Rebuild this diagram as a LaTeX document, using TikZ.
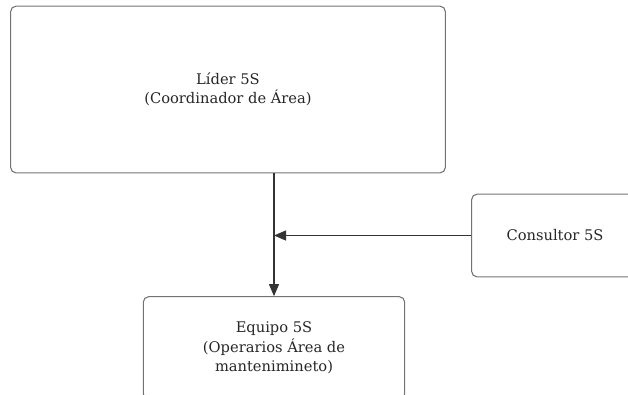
\documentclass[tikz,border=0pt]{standalone}
\usepackage{fontspec}
\setmainfont{DejaVu Serif}
\usetikzlibrary{arrows.meta,positioning}

\begin{document}
\begin{tikzpicture}[x=0.75pt, y=-0.75pt, >={Triangle[length=9pt,width=7.5pt]},
  box/.style={draw=black!55, line width=0.8pt, rounded corners=4pt, align=center,
    font=\fontsize{11}{14.5}\selectfont, text=black!85}]
  \useasboundingbox (0,0) rectangle (628,394);
  \clip (0,0) rectangle (628,394);
  \node[box, minimum width=326pt, minimum height=125pt] (lider) at (228,89.5) {L\'ider 5S\\(Coordinador de \'Area)};
  \node[box, minimum width=125pt, minimum height=62pt] (consultor) at (555,235.5) {Consultor 5S};
  \node[box, minimum width=196pt, minimum height=77pt] (equipo) at (274,348) {Equipo 5S\\(Operarios \'Area de\\mantenimineto)};
  \draw[->, line width=0.8pt, black!80] (equipo.north |- lider.south) -- (equipo.north);
  \draw[->, line width=0.8pt, black!80] (consultor.west) -- (consultor.west -| equipo.north);
\end{tikzpicture}
\end{document}
